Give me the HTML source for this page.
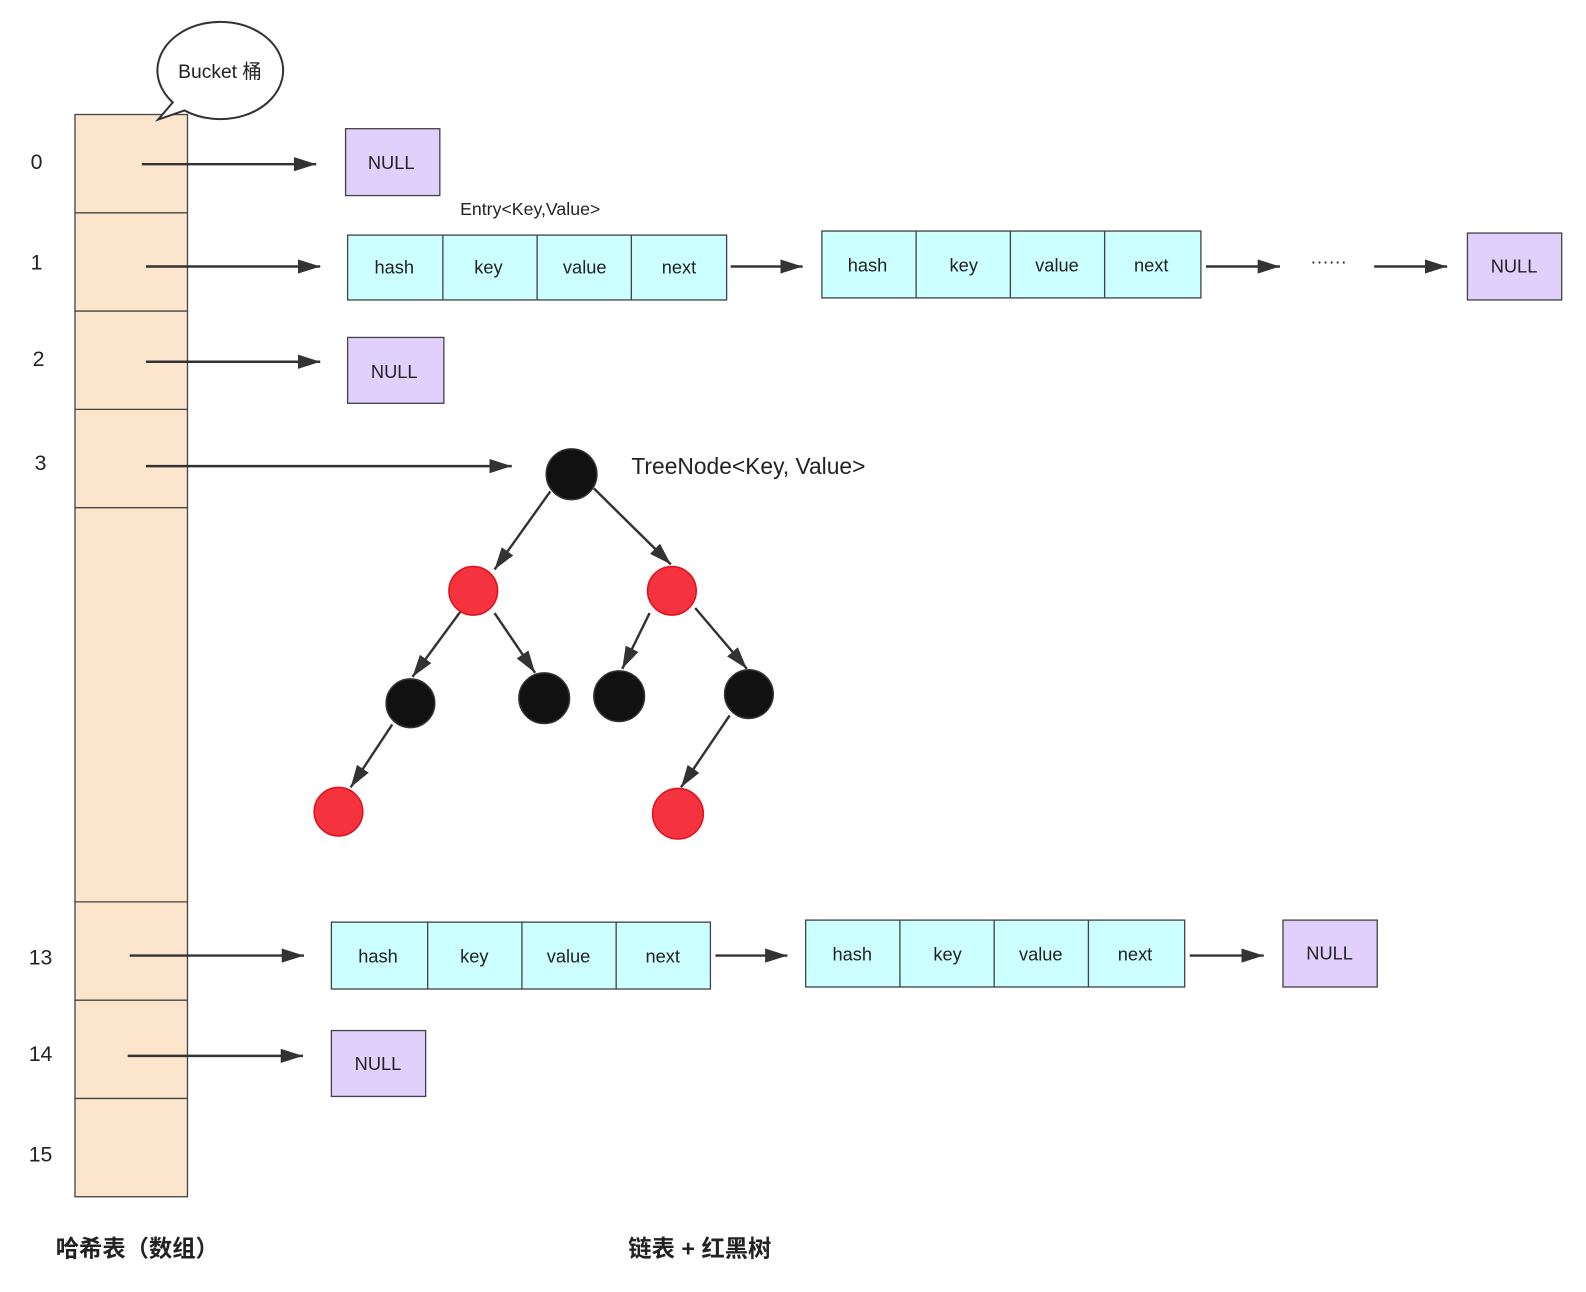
<!DOCTYPE html>
<html><head><meta charset="utf-8"><style>
html,body{margin:0;padding:0;background:#fff;width:1586px;height:1292px;overflow:hidden}
svg{display:block}
text{font-family:"Liberation Sans","Noto Sans CJK SC",sans-serif;fill:#222}
</style></head><body>
<svg width="1586" height="1292" viewBox="0 0 1565 1275" preserveAspectRatio="none" xmlns="http://www.w3.org/2000/svg">
<defs>
<marker id="ah" viewBox="0 0 22 14" refX="22" refY="7" markerWidth="22" markerHeight="14" markerUnits="userSpaceOnUse" orient="auto"><path d="M0,0 L22,7 L0,14 Z" fill="#333"/></marker>
</defs>
<!-- column -->
<rect x="74" y="113" width="111" height="1068" fill="#fce5cd" stroke="#444" stroke-width="1.3"/>
<g stroke="#444" stroke-width="1.3">
<line x1="74" y1="210" x2="185" y2="210"/><line x1="74" y1="307" x2="185" y2="307"/>
<line x1="74" y1="404" x2="185" y2="404"/><line x1="74" y1="501" x2="185" y2="501"/>
<line x1="74" y1="890" x2="185" y2="890"/><line x1="74" y1="987" x2="185" y2="987"/>
<line x1="74" y1="1084" x2="185" y2="1084"/>
</g>
<!-- bubble -->
<path d="M170.5,101 L156,118 L182,109 A62,48 0 1 0 170.5,101 Z" fill="#fff" stroke="#333" stroke-width="2"/>
<text x="217" y="77" font-size="19" text-anchor="middle" fill="#333">Bucket 桶</text>
<g font-size="21">
<text x="36" y="167" text-anchor="middle">0</text>
<text x="36" y="266" text-anchor="middle">1</text>
<text x="38" y="361" text-anchor="middle">2</text>
<text x="40" y="464" text-anchor="middle">3</text>
<text x="40" y="952" text-anchor="middle">13</text>
<text x="40" y="1047" text-anchor="middle">14</text>
<text x="40" y="1146" text-anchor="middle">15</text>
</g>
<!-- arrows -->
<g stroke="#333" stroke-width="2.4" marker-end="url(#ah)">
<line x1="140" y1="162" x2="312" y2="162"/>
<line x1="144" y1="263" x2="316" y2="263"/>
<line x1="721" y1="263" x2="792" y2="263"/>
<line x1="1190" y1="263" x2="1263" y2="263"/>
<line x1="1356" y1="263" x2="1428" y2="263"/>
<line x1="144" y1="357" x2="316" y2="357"/>
<line x1="144" y1="460" x2="505" y2="460"/>
<line x1="128" y1="943" x2="300" y2="943"/>
<line x1="706" y1="943" x2="777" y2="943"/>
<line x1="1174" y1="943" x2="1247" y2="943"/>
<line x1="126" y1="1042" x2="299" y2="1042"/>
<line x1="543" y1="485" x2="488" y2="562"/>
<line x1="586" y1="482" x2="662" y2="557"/>
<line x1="454" y1="604" x2="407" y2="668"/>
<line x1="488" y1="605" x2="528" y2="664"/>
<line x1="641" y1="605" x2="614" y2="660"/>
<line x1="686" y1="600" x2="737" y2="660"/>
<line x1="387" y1="715" x2="346" y2="777"/>
<line x1="720" y1="706" x2="672" y2="777"/>
</g>
<!-- NULL boxes -->
<g fill="#e1d0fb" stroke="#444" stroke-width="1.3">
<rect x="341" y="127" width="93" height="66"/>
<rect x="1448" y="230" width="93" height="66"/>
<rect x="343" y="333" width="95" height="65"/>
<rect x="1266" y="908" width="93" height="66"/>
<rect x="327" y="1017" width="93" height="65"/>
</g>
<g font-size="18" text-anchor="middle">
<text x="386" y="167">NULL</text>
<text x="1494" y="269">NULL</text>
<text x="389" y="373">NULL</text>
<text x="1312" y="947">NULL</text>
<text x="373" y="1056">NULL</text>
</g>
<!-- entries -->
<g fill="#ccffff" stroke="#444" stroke-width="1.3">
<rect x="343" y="232" width="374" height="64"/>
<rect x="811" y="228" width="374" height="66"/>
<rect x="327" y="910" width="374" height="66"/>
<rect x="795" y="908" width="374" height="66"/>
</g>
<g stroke="#444" stroke-width="1.3">
<line x1="437" y1="232" x2="437" y2="296"/><line x1="530" y1="232" x2="530" y2="296"/><line x1="623" y1="232" x2="623" y2="296"/>
<line x1="904" y1="228" x2="904" y2="294"/><line x1="997" y1="228" x2="997" y2="294"/><line x1="1090" y1="228" x2="1090" y2="294"/>
<line x1="422" y1="910" x2="422" y2="976"/><line x1="515" y1="910" x2="515" y2="976"/><line x1="608" y1="910" x2="608" y2="976"/>
<line x1="888" y1="908" x2="888" y2="974"/><line x1="981" y1="908" x2="981" y2="974"/><line x1="1074" y1="908" x2="1074" y2="974"/>
</g>
<g font-size="18" text-anchor="middle" fill="#333">
<text x="389" y="270">hash</text><text x="482" y="270">key</text><text x="577" y="270">value</text><text x="670" y="270">next</text>
<text x="856" y="268">hash</text><text x="951" y="268">key</text><text x="1043" y="268">value</text><text x="1136" y="268">next</text>
<text x="373" y="950">hash</text><text x="468" y="950">key</text><text x="561" y="950">value</text><text x="654" y="950">next</text>
<text x="841" y="948">hash</text><text x="935" y="948">key</text><text x="1027" y="948">value</text><text x="1120" y="948">next</text>
</g>
<text x="454" y="212" font-size="17.5" fill="#333">Entry&lt;Key,Value&gt;</text>
<text x="1311" y="264" font-size="18" text-anchor="middle" fill="#333">······</text>
<text x="623" y="468" font-size="22.5" fill="#222">TreeNode&lt;Key, Value&gt;</text>
<!-- tree nodes -->
<g stroke="#333" stroke-width="1.5" fill="#111">
<circle cx="564" cy="468" r="25"/>
<circle cx="405" cy="694" r="24"/><circle cx="537" cy="689" r="25"/>
<circle cx="611" cy="687" r="25"/><circle cx="739" cy="685" r="24"/>
</g>
<g stroke="#e0101a" stroke-width="1.5" fill="#f5333f">
<circle cx="467" cy="583" r="24"/><circle cx="663" cy="583" r="24"/>
<circle cx="334" cy="801" r="24"/><circle cx="669" cy="803" r="25"/>
</g>
<text x="55" y="1240" font-size="23" font-weight="bold" fill="#333">哈希表（数组）</text>
<text x="620" y="1240" font-size="23" font-weight="bold" fill="#333">链表 + 红黑树</text>
</svg>
</body></html>
